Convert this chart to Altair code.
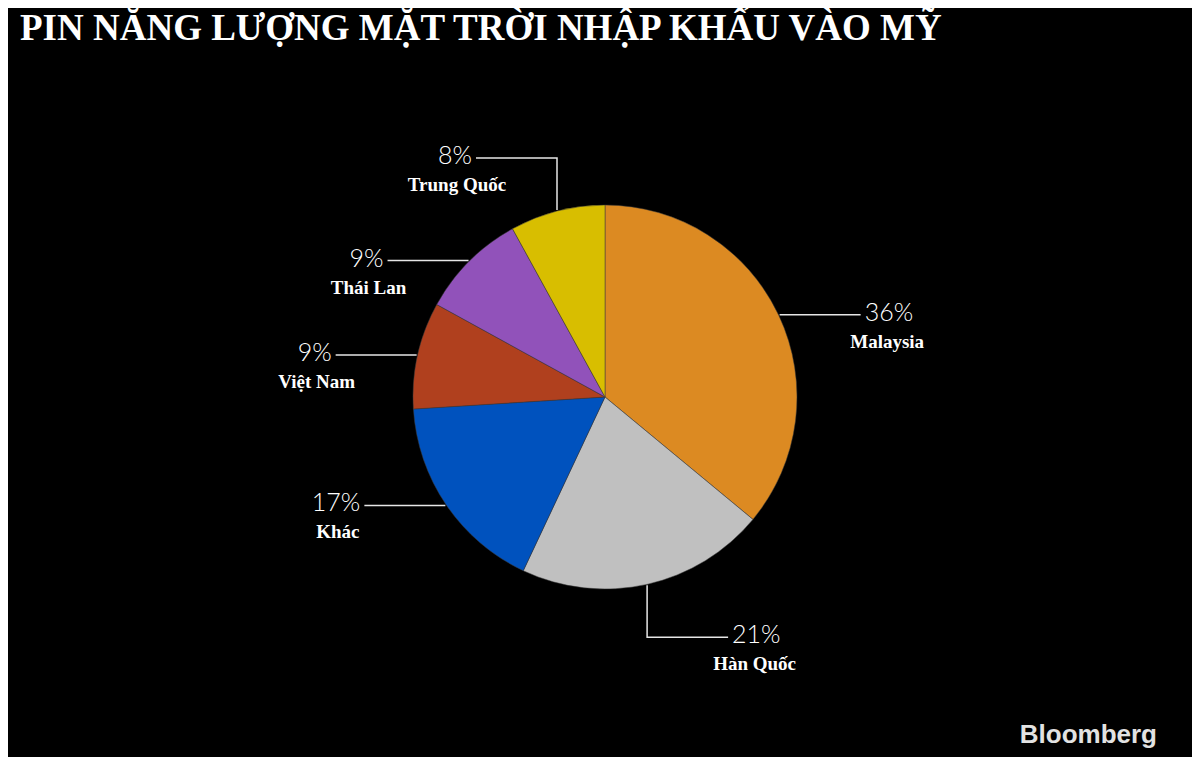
import math
import altair as alt
import pandas as pd

# ---- data ----
countries = ["Malaysia", "Hàn Quốc", "Khác", "Việt Nam", "Thái Lan", "Trung Quốc"]
shares = [36, 21, 17, 9, 9, 8]
colors = ["#DC8A22", "#C0C0C0", "#0052BE", "#B0401E", "#9152BA", "#D8BE00"]
title_text = "PIN NĂNG LƯỢNG MẶT TRỜI NHẬP KHẨU VÀO MỸ"
source_text = "Bloomberg"

# ---- layout constants ----
W, H = 1184, 699
CX, CY, R = 597, 339, 192
ELBOW, ARM, GAP, NAME_DY = 52, 81, 4, 27

df = pd.DataFrame({"country": countries, "share": shares, "idx": range(len(countries))})

line_rows, label_rows = [], []
cum = 0
for i, (c, s) in enumerate(zip(countries, shares)):
    a = 2 * math.pi * (cum + s / 2) / sum(shares)
    cum += s
    sa, ca = math.sin(a), math.cos(a)
    ex, ey = CX + (R + 1) * sa, CY - (R + 1) * ca
    side = 1 if sa >= 0 else -1
    pts = [(ex, ey)]
    if abs(ca) > 0.9:
        ey = ey - ELBOW if ca > 0 else ey + ELBOW
        pts.append((ex, ey))
    xe = ex + side * ARM
    pts.append((xe, ey))
    for k, (px, py) in enumerate(pts):
        line_rows.append({"country": c, "k": k, "x": px, "y": py})
    pct = f"{s}%"
    w = 15 * len(pct)
    label_rows.append({
        "country": c, "pct": pct, "side": "R" if side > 0 else "L",
        "px": xe + side * GAP, "py": ey - 2,
        "nx": xe + side * (GAP + w / 2), "ny": ey + NAME_DY,
    })

ldf = pd.DataFrame(line_rows)
tdf = pd.DataFrame(label_rows)

xs = alt.Scale(domain=[0, W], nice=False, zero=False)
ys = alt.Scale(domain=[0, H], reverse=True, nice=False, zero=False)

arcs = alt.Chart(df).mark_arc(radius=R, stroke="#3a3a3a", strokeWidth=0.5).encode(
    theta=alt.Theta("share:Q", stack=True),
    color=alt.Color("country:N", scale=alt.Scale(domain=countries, range=colors), legend=None),
    order=alt.Order("idx:Q"),
    x=alt.value(CX),
    y=alt.value(CY),
)

lines = alt.Chart(ldf).mark_line(color="#E6E6E6", strokeWidth=1.5).encode(
    x=alt.X("x:Q", scale=xs, axis=None),
    y=alt.Y("y:Q", scale=ys, axis=None),
    detail="country:N",
    order="k:Q",
)

pct_style = dict(font="Lato", fontSize=25, fontWeight=300, color="#FFFFFF", baseline="middle")
pct_right = alt.Chart(tdf).transform_filter(alt.datum.side == "R").mark_text(align="left", **pct_style).encode(
    x=alt.X("px:Q", scale=xs, axis=None), y=alt.Y("py:Q", scale=ys, axis=None), text="pct:N")
pct_left = alt.Chart(tdf).transform_filter(alt.datum.side == "L").mark_text(align="right", **pct_style).encode(
    x=alt.X("px:Q", scale=xs, axis=None), y=alt.Y("py:Q", scale=ys, axis=None), text="pct:N")

names = alt.Chart(tdf).mark_text(
    font="Liberation Serif", fontSize=19, fontWeight="bold", color="#FFFFFF", align="center", baseline="middle"
).encode(
    x=alt.X("nx:Q", scale=xs, axis=None), y=alt.Y("ny:Q", scale=ys, axis=None), text="country:N")

logo = alt.Chart(pd.DataFrame({"t": [source_text]})).mark_text(
    font="Liberation Sans", fontSize=26, fontWeight="bold", color="#E2E2E2", align="right", baseline="middle"
).encode(text="t:N", x=alt.value(1149), y=alt.value(677))

chart = alt.layer(arcs, lines, pct_right, pct_left, names, logo).properties(
    width=W, height=H,
    padding={"left": 0, "right": 0, "top": 50, "bottom": 0},
    autosize=alt.AutoSizeParams(type="none"),
    background="#000000",
    title=alt.Title(title_text, anchor="start", font="Liberation Serif", fontSize=37,
                    fontWeight="bold", color="#FFFFFF", dx=12, offset=10),
).configure_view(stroke=None)

chart.save("out.html", embed_options={"renderer": "svg", "actions": False})
